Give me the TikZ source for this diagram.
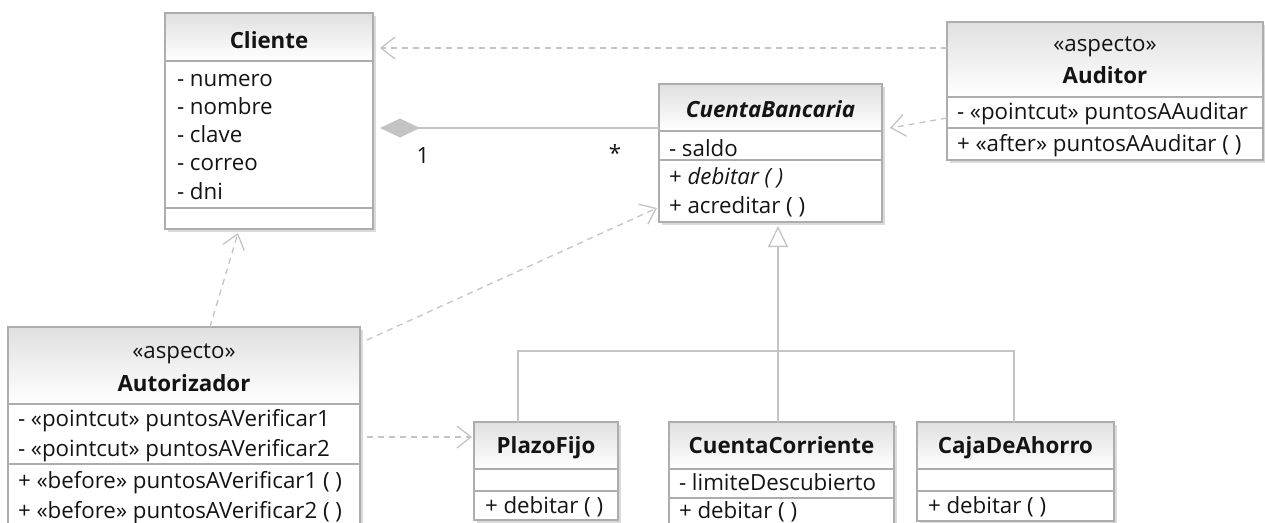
\documentclass[tikz,border=0pt]{standalone}
\usepackage{fontspec}
\setmainfont{Open Sans}
\usetikzlibrary{arrows.meta,calc,fit}
\definecolor{linegray}{HTML}{C4C4C4}
\definecolor{boxgray}{HTML}{ADADAD}
\definecolor{txt}{HTML}{141414}
\definecolor{hdrtop}{HTML}{E0E0E0}
\definecolor{shadowgray}{HTML}{DADADA}
\tikzset{
  lbl/.style={inner sep=0pt, outer sep=0pt, text=txt, font=\fontsize{22.3}{27}\selectfont, text height=16pt, text depth=5pt},
  lft/.style={lbl, anchor=west},
  classbox/.style={draw=boxgray, line width=1.3pt, inner sep=0pt, outer sep=0pt},
  dep/.style={draw=linegray, line width=1.3pt, dash pattern=on 6pt off 5pt,
    -{Straight Barb[length=14pt,width=22pt,line width=1.3pt]}},
  comp/.style={draw=linegray, line width=1.3pt, {Diamond[length=40pt,width=19pt,fill=linegray]}-, shorten <=7pt},
  inh/.style={draw=linegray, line width=1.3pt},
  inhhead/.style={inh, -{Triangle[open,length=21pt,width=20pt,fill=white,line width=1.3pt]}},
}
\newcommand{\umlbox}[7]{%
  \fill[shadowgray] (#2+3,#3+3) rectangle (#4+3,#5+3);
  \fill[white] (#2,#3) rectangle (#4,#5);
  \shade[top color=hdrtop, bottom color=white] (#2,#3) rectangle (#4,#6);
  \draw[boxgray, line width=1.3pt] (#2,#6) -- (#4,#6) (#2,#7) -- (#4,#7);
  \coordinate (#1-nw) at (#2,#3);
  \coordinate (#1-se) at (#4,#5);
  \node[classbox, fit=(#1-nw)(#1-se)] (#1) {};
}
\begin{document}
\begin{tikzpicture}[x=1pt,y=-1pt]
\clip (0,0) rectangle (1265,522);
\fill[white] (0,0) rectangle (1265,522);

% ---------- boxes ----------
\umlbox{cliente}{165}{13}{373}{229}{61}{208}
\node[lbl] (cliente-t) at (269,42.5) {\textbf{Cliente}};
\node[lft] (cliente-a1) at (177,80.5) {- numero};
\node[lft] (cliente-a2) at (177,108.8) {- nombre};
\node[lft] (cliente-a3) at (177,137.1) {- clave};
\node[lft] (cliente-a4) at (177,165.4) {- correo};
\node[lft] (cliente-a5) at (177,193.7) {- dni};

\umlbox{cuentab}{659}{84}{882}{222}{131}{160}
\node[lbl] (cuentab-t) at (770.5,111.5) {\textbf{\textit{CuentaBancaria}}};
\node[lft] (cuentab-a1) at (669,150.5) {- saldo};
\node[lft] (cuentab-o1) at (669,179) {+ \textit{debitar ( )}};
\node[lft] (cuentab-o2) at (669,207.5) {+ acreditar ( )};

\umlbox{auditor}{947}{22}{1263}{160}{97}{128}
\node[lbl] (auditor-s) at (1105,46) {«aspecto»};
\node[lbl] (auditor-t) at (1105,77.5) {\textbf{Auditor}};
\node[lft] (auditor-a1) at (957,114) {- «pointcut» puntosAAuditar};
\node[lft] (auditor-o1) at (957,146) {+ «after» puntosAAuditar ( )};

\umlbox{autoriz}{8}{327}{360}{545}{404}{464}
\node[lbl] (autoriz-s) at (184,352.5) {«aspecto»};
\node[lbl] (autoriz-t) at (184,386) {\textbf{Autorizador}};
\node[lft] (autoriz-a1) at (18,421) {- «pointcut» puntosAVerificar1};
\node[lft] (autoriz-a2) at (18,451) {- «pointcut» puntosAVerificar2};
\node[lft] (autoriz-o1) at (18,482.5) {+ «before» puntosAVerificar1 ( )};
\node[lft] (autoriz-o2) at (18,512.5) {+ «before» puntosAVerificar2 ( )};

\umlbox{plazo}{474}{422}{618}{520}{469}{491}
\node[lbl] (plazo-t) at (546,447.5) {\textbf{PlazoFijo}};
\node[lft] (plazo-o1) at (485,507.5) {+ debitar ( )};

\umlbox{ccorr}{669}{422}{894}{545}{469}{498}
\node[lbl] (ccorr-t) at (781.5,447.5) {\textbf{CuentaCorriente}};
\node[lft] (ccorr-a1) at (679,485) {- limiteDescubierto};
\node[lft] (ccorr-o1) at (679,513) {+ debitar ( )};

\umlbox{caja}{917}{422}{1114}{521}{469}{491}
\node[lbl] (caja-t) at (1015.5,447.5) {\textbf{CajaDeAhorro}};
\node[lft] (caja-o1) at (928,507.5) {+ debitar ( )};

% ---------- connectors ----------
% composition Cliente - CuentaBancaria
\draw[comp] (cliente.east |- {$(cuentab.north west)+(0,44)$}) -- ($(cuentab.north west)+(0,44)$);
\node[lbl] (mult1) at (423,158) {1};
\node[lbl] (multn) at (615,156) {*};

% dependencies
\draw[dep] ($(auditor.north west)+(0,26)$) -- ($(cliente.north east)+(7,35)$);
\draw[dep] ($(auditor.north west)+(0,96)$) -- ($(cuentab.north east)+(8,44)$);
\draw[dep] ($(autoriz.north west)+(202,0)$) -- ($(cliente.south west)+(73,4)$);
\draw[dep] ($(autoriz.north east)+(7,13)$) -- ($(cuentab.south west)+(-2,-14)$);
\draw[dep] ($(autoriz.north east)+(7,110)$) -- ($(plazo.north west)+(-2,15)$);

% generalization
\draw[inh] ($(plazo.north west)+(44,0)$) |- ($(caja.north west)+(97,-71)$) -- ($(caja.north west)+(97,0)$);
\draw[inhhead] ($(ccorr.north west)+(109,0)$) -- ($(cuentab.south west)+(119,4)$);
\end{tikzpicture}
\end{document}
